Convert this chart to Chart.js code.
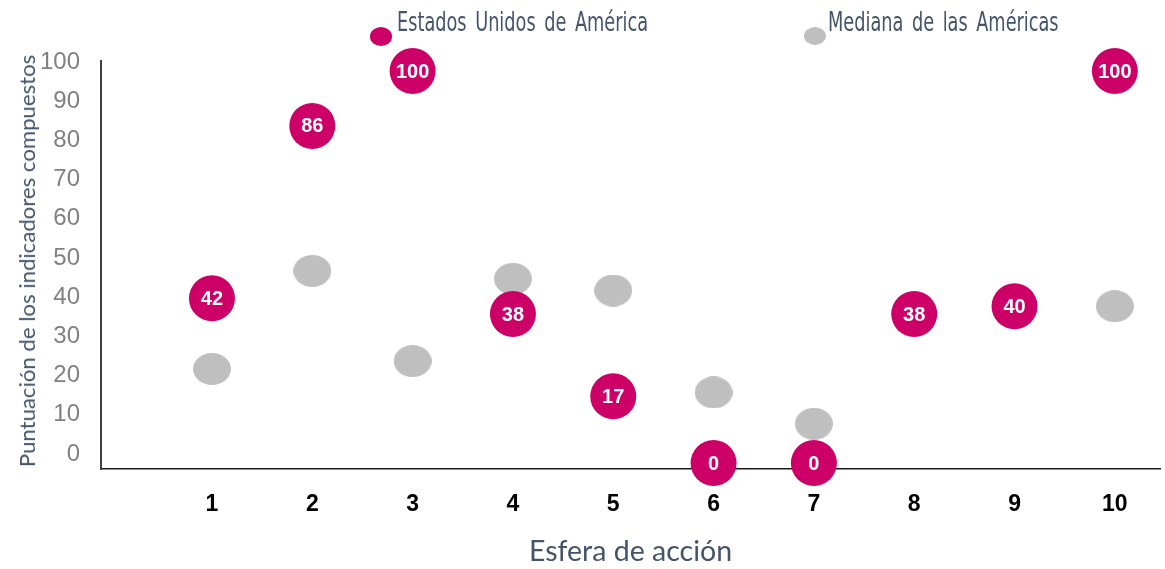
<!DOCTYPE html>
<html>
<head>
<meta charset="utf-8">
<script src="https://cdn.jsdelivr.net/npm/chart.js@4.4.0/dist/chart.umd.min.js"></script>
<style>
  body { margin:0; background:#fff; }
  #wrap { position:relative; width:1165px; height:569px; }
  .leg { position:absolute; font-family:"Liberation Sans Narrow","DejaVu Sans Condensed",sans-serif; font-size:27px; color:#44546a; word-spacing:4px; white-space:nowrap; transform:scaleX(0.73); transform-origin:0 0; }
  .dot { position:absolute; border-radius:50%; }
  #ytitle { position:absolute; left:27px; top:261px; font-family:Lato,"Open Sans",sans-serif; font-size:22px; line-height:24px; color:#44546a; white-space:nowrap; }
</style>
</head>
<body>
<div id="wrap">
  <canvas id="c" width="1165" height="569"></canvas>
  <div class="dot" style="left:370px;top:27px;width:22px;height:19px;background:#cc0066"></div>
  <div class="leg" style="left:397px;top:6px">Estados Unidos de América</div>
  <div class="dot" style="left:804px;top:27px;width:22px;height:18px;background:#bfbfbf"></div>
  <div class="leg" style="left:828px;top:6px">Mediana de las Américas</div>
  <div id="ytitle">Puntuación de los indicadores compuestos</div>
</div>
<script>
const esferas = [1, 2, 3, 4, 5, 6, 7, 8, 9, 10];
const usa = [42, 86, 100, 38, 17, 0, 0, 38, 40, 100];
const mediana = [24, 49, 26, 47, 44, 18, 10, 38, 40, 40];
const yTicks = [0, 10, 20, 30, 40, 50, 60, 70, 80, 90, 100];

const PINK = '#cc0066', GREY = '#bfbfbf';

// squeeze the vertical title to the axis length
const yt = document.getElementById('ytitle');
yt.style.transform = 'translate(-50%,-50%) rotate(-90deg) scaleX(' + (412 / yt.offsetWidth) + ')';

// grey markers are slightly wider than tall
const ell = document.createElement('canvas');
ell.width = 38; ell.height = 32;
const ectx = ell.getContext('2d');
ectx.fillStyle = GREY;
ectx.beginPath(); ectx.ellipse(19, 16, 19, 16, 0, 0, Math.PI * 2); ectx.fill();

const valueLabels = {
  id: 'valueLabels',
  afterDatasetsDraw(chart) {
    const ctx = chart.ctx;
    const meta = chart.getDatasetMeta(0);
    ctx.save();
    ctx.fillStyle = '#fff';
    ctx.font = 'bold 20px "Liberation Sans", Arial, sans-serif';
    ctx.textAlign = 'center';
    ctx.textBaseline = 'middle';
    meta.data.forEach((pt, i) => ctx.fillText(String(usa[i]), pt.x, pt.y + 1));
    ctx.restore();
  }
};

new Chart(document.getElementById('c').getContext('2d'), {
  type: 'scatter',
  data: {
    datasets: [
      { label: 'Estados Unidos de América', data: esferas.map((x, i) => ({ x, y: usa[i] })),
        backgroundColor: PINK, borderWidth: 0, pointRadius: 23, pointHoverRadius: 23, clip: false },
      { label: 'Mediana de las Américas', data: esferas.map((x, i) => ({ x, y: mediana[i] })),
        pointStyle: ell, pointRadius: 17, clip: false }
    ]
  },
  options: {
    responsive: false,
    animation: false,
    layout: { autoPadding: false, padding: { top: 61, right: 5, left: 0, bottom: 0 } },
    plugins: { legend: { display: false }, tooltip: { enabled: false } },
    scales: {
      x: {
        type: 'linear', min: -0.106, max: 10.45,
        afterBuildTicks: s => { s.ticks = esferas.map(v => ({ value: v })); },
        afterFit: s => { s.height = 100; s.paddingLeft = 0; s.paddingRight = 0; },
        grid: { display: false, drawTicks: false },
        border: { display: true, color: '#1a1a1a', width: 1.5 },
        ticks: { padding: 22, color: '#000', font: { family: '"Liberation Sans", Arial', size: 23, weight: 'bold' } },
        title: { display: true, text: 'Esfera de acción', color: '#44546a', padding: 0,
                 font: { family: 'Lato, "Open Sans", sans-serif', size: 28.5 } }
      },
      y: {
        min: -1.53, max: 102.55,
        afterBuildTicks: s => { s.ticks = yTicks.map(v => ({ value: v })); },
        afterFit: s => { s.width = 101; s.paddingTop = 0; s.paddingBottom = 0; },
        grid: { display: false, drawTicks: false },
        border: { display: true, color: '#404040', width: 2 },
        ticks: { padding: 21, labelOffset: -9, color: '#808080', font: { family: '"Liberation Sans Narrow", Arial', size: 24 } }
      }
    }
  },
  plugins: [valueLabels]
});
</script>
</body>
</html>
